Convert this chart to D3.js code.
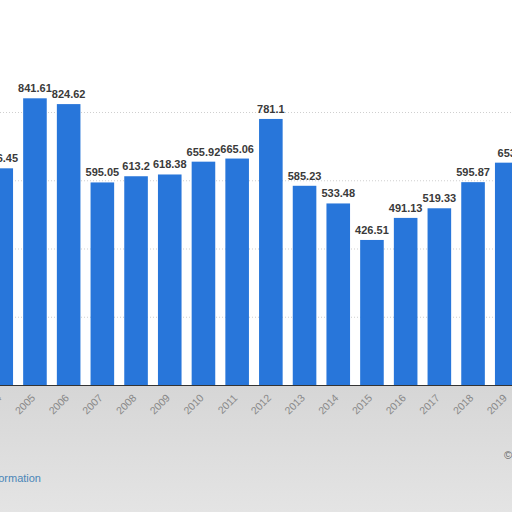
<html>
  <script src="https://d3js.org/d3.v7.min.js"></script>
  <style>
    body { margin: 0; background: #fff; }
  </style>
  <body>
    <div id="chart"></div>
    <script>
      // data
      var years = ["2004", "2005", "2006", "2007", "2008", "2009", "2010", "2011",
                   "2012", "2013", "2014", "2015", "2016", "2017", "2018", "2019"];
      var values = [636.45, 841.61, 824.62, 595.05, 613.2, 618.38, 655.92, 665.06,
                    781.1, 585.23, 533.48, 426.51, 491.13, 519.33, 595.87, 653];
      var gridTicks = [200, 400, 600, 800];

      var width = 512, height = 512;
      var base = 385.5;

      var svg = d3.select("#chart").append("svg")
        .attr("width", width).attr("height", height);

      // greyish area under the axis, as in the picture
      var grad = svg.append("defs").append("linearGradient")
        .attr("id", "under").attr("x1", 0).attr("y1", 0).attr("x2", 0).attr("y2", 1);
      grad.append("stop").attr("offset", "0%").attr("stop-color", "#d6d6d6");
      grad.append("stop").attr("offset", "100%").attr("stop-color", "#e4e4e4");
      svg.append("rect")
        .attr("x", 0).attr("y", base)
        .attr("width", width).attr("height", height - base)
        .attr("fill", "url(#under)");

      var x = d3.scaleBand()
        .domain(years)
        .range([-15.6, 523.6])
        .paddingInner(0.3)
        .paddingOuter(0.15);

      var y = d3.scaleLinear()
        .domain([0, 800])
        .range([base, 112.5]);

      // grid
      svg.selectAll(".grid")
        .data(gridTicks)
        .enter().append("line")
        .attr("x1", 0).attr("x2", width)
        .attr("y1", function(d) { return y(d) })
        .attr("y2", function(d) { return y(d) })
        .attr("stroke", "#cfcfcf")
        .attr("stroke-dasharray", "1,2");

      // bars
      svg.selectAll(".bar")
        .data(values)
        .enter().append("rect")
        .attr("x", function(d, i) { return x(years[i]) })
        .attr("y", function(d) { return y(d) })
        .attr("width", x.bandwidth())
        .attr("height", function(d) { return base - y(d) })
        .attr("fill", "#2876da");

      // value labels
      svg.selectAll(".val")
        .data(values)
        .enter().append("text")
        .attr("x", function(d, i) { return x(years[i]) + x.bandwidth() / 2 })
        .attr("y", function(d) { return y(d) - 6 })
        .attr("text-anchor", "middle")
        .attr("font-family", "Liberation Sans, Arial, sans-serif")
        .attr("font-weight", "bold")
        .attr("font-size", 11)
        .attr("fill", "#3a3a3a")
        .text(function(d) { return d });

      // x axis
      var xAxis = svg.append("g")
        .attr("transform", "translate(0," + base + ")")
        .call(d3.axisBottom(x).tickSize(0).tickPadding(0));
      xAxis.select(".domain").remove();
      xAxis.append("line")
        .attr("x1", 0).attr("x2", width)
        .attr("stroke", "#333").attr("stroke-width", 1.2);
      xAxis.selectAll("text")
        .attr("font-family", "Liberation Sans, Arial, sans-serif")
        .attr("font-size", 10.5)
        .attr("fill", "#888")
        .attr("text-anchor", "end")
        .attr("dy", null)
        .attr("transform", "translate(1,13) rotate(-45)");

      // footer
      svg.append("text")
        .attr("x", 41).attr("y", 482)
        .attr("text-anchor", "end")
        .attr("font-family", "Liberation Sans, Arial, sans-serif")
        .attr("font-size", 11)
        .attr("fill", "#4a86b8")
        .text("Additional Information");

      svg.append("text")
        .attr("x", 504).attr("y", 459)
        .attr("font-family", "Liberation Sans, Arial, sans-serif")
        .attr("font-size", 11)
        .attr("fill", "#666")
        .text("© Statista");
    </script>
  </body>
</html>
